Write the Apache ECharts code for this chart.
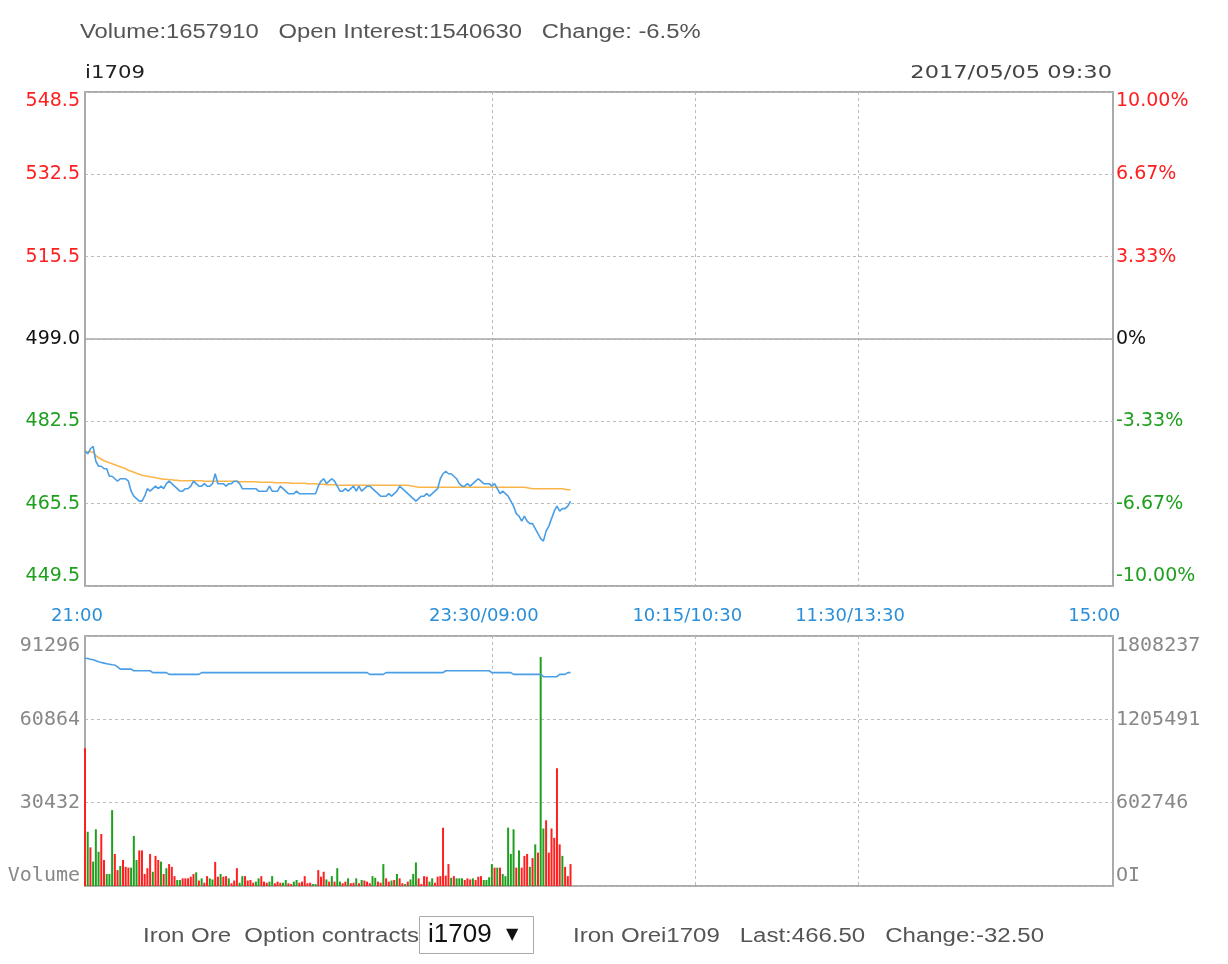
<!DOCTYPE html>
<html>
<head>
<meta charset="utf-8">
<title>i1709</title>
<script src="https://cdn.jsdelivr.net/npm/echarts@6/dist/echarts.min.js"></script>
<style>
  html, body { margin: 0; padding: 0; background: #fff; }
  #chart { width: 1228px; height: 964px; }
</style>
</head>
<body>
<div id="chart"></div>
<script>
// trading sessions (minute categories)
const sessions = [['21:00', '23:29'], ['09:00', '10:14'], ['10:30', '11:29'], ['13:30', '15:00']]
const xTickLabels = [['21:00', '21:00'], ['09:00', '23:30/09:00'], ['10:30', '10:15/10:30'], ['13:30', '11:30/13:30'], ['15:00', '15:00']]
const sessionBreaks = ['09:00', '10:30', '13:30']
const trailingSlots = 4 // empty room right of 15:00

const basePrice = 499
const priceTicks = ['449.5', '465.5', '482.5', '499.0', '515.5', '532.5', '548.5']
const pctTicks = ['-10.00%', '-6.67%', '-3.33%', '0%', '3.33%', '6.67%', '10.00%']
const volTicks = ['Volume', '30432', '60864', '91296']
const oiTicks = ['OI', '602746', '1205491', '1808237']

// last price per minute
const price = [
  476.5, 476.0, 477.0, 477.5, 474.5, 473.5, 473.5, 473.0, 473.0, 471.5,
  471.5, 471.0, 470.5, 471.0, 471.0, 471.0, 470.5, 468.5, 467.5, 467.0,
  466.5, 466.5, 467.5, 469.0, 468.5, 469.0, 469.5, 469.0, 469.5, 469.0,
  470.0, 470.5, 470.0, 469.5, 469.0, 468.5, 468.5, 469.0, 469.0, 469.5,
  470.5, 470.0, 469.5, 469.5, 470.0, 469.5, 469.5, 470.0, 472.0, 470.0,
  470.0, 470.0, 469.5, 470.0, 470.0, 470.5, 470.5, 470.0, 469.0, 469.0,
  469.0, 469.0, 469.0, 469.0, 468.5, 468.5, 468.5, 468.5, 469.5, 468.5,
  468.5, 468.5, 469.5, 469.0, 468.5, 468.0, 468.0, 468.0, 468.5, 468.0,
  468.0, 468.0, 468.0, 468.0, 468.0, 468.0, 469.5, 470.5, 471.0, 470.0,
  470.5, 471.0, 470.5, 469.5, 468.5, 468.5, 469.0, 468.5, 469.0, 469.5,
  468.5, 469.5, 468.5, 469.0, 469.5, 469.5, 469.0, 468.5, 468.0, 467.5,
  467.5, 467.5, 468.0, 467.5, 468.0, 468.5, 469.5, 469.0, 468.5, 468.0,
  467.5, 467.0, 466.5, 467.0, 467.5, 467.5, 468.0, 467.5, 468.0, 468.5,
  469.0, 471.0, 472.0, 472.5, 472.0, 472.0, 471.5, 471.0, 470.0, 469.5,
  469.5, 470.0, 469.5, 470.0, 470.5, 471.0, 470.5, 470.0, 470.0, 470.0,
  469.5, 470.0, 469.0, 468.0, 468.5, 468.0, 467.5, 466.5, 465.5, 464.0,
  463.5, 462.5, 463.5, 462.5, 462.0, 462.0, 461.0, 460.0, 459.0, 458.5,
  460.5, 461.5, 463.0, 464.5, 465.5, 464.5, 465.0, 465.0, 465.5, 466.5
]

// average price per minute
const avgPrice = [
  476.5, 476.4, 476.4, 476.3, 475.6, 475.2, 474.9, 474.6, 474.4, 474.2,
  474.0, 473.8, 473.6, 473.4, 473.2, 473.0, 472.7, 472.5, 472.3, 472.1,
  471.9, 471.7, 471.6, 471.5, 471.4, 471.3, 471.2, 471.1, 471.0, 470.9,
  470.9, 470.8, 470.8, 470.7, 470.7, 470.6, 470.6, 470.6, 470.6, 470.6,
  470.6, 470.6, 470.6, 470.6, 470.5, 470.5, 470.5, 470.5, 470.5, 470.5,
  470.5, 470.5, 470.5, 470.5, 470.5, 470.5, 470.5, 470.4, 470.4, 470.4,
  470.4, 470.4, 470.4, 470.4, 470.3, 470.3, 470.3, 470.3, 470.3, 470.3,
  470.2, 470.2, 470.2, 470.2, 470.2, 470.2, 470.1, 470.1, 470.1, 470.1,
  470.1, 470.1, 470.0, 470.0, 470.0, 470.0, 469.9, 469.9, 469.9, 469.8,
  469.8, 469.8, 469.8, 469.7, 469.7, 469.7, 469.7, 469.7, 469.7, 469.7,
  469.7, 469.7, 469.7, 469.7, 469.7, 469.7, 469.7, 469.7, 469.7, 469.7,
  469.7, 469.7, 469.7, 469.7, 469.7, 469.7, 469.7, 469.7, 469.7, 469.7,
  469.6, 469.5, 469.4, 469.3, 469.3, 469.3, 469.3, 469.3, 469.3, 469.3,
  469.3, 469.3, 469.3, 469.3, 469.3, 469.3, 469.3, 469.3, 469.3, 469.3,
  469.3, 469.3, 469.3, 469.3, 469.3, 469.3, 469.3, 469.3, 469.3, 469.3,
  469.3, 469.3, 469.3, 469.3, 469.3, 469.3, 469.3, 469.3, 469.3, 469.3,
  469.3, 469.3, 469.3, 469.2, 469.1, 469.0, 469.0, 469.0, 469.0, 469.0,
  469.0, 469.0, 469.0, 469.0, 469.0, 469.0, 469.0, 468.9, 468.8, 468.8
]

// volume per minute
const volume = [
  50300, 19800, 14100, 8900, 20700, 12500, 19000, 9500, 4400, 4400,
  27700, 11700, 5800, 7300, 9500, 7000, 6700, 6700, 18300, 9500,
  13000, 13000, 4400, 6500, 11700, 5200, 11000, 9500, 8900, 4400,
  6500, 8000, 7000, 3600, 2200, 2200, 2800, 2800, 2800, 3400,
  4400, 5000, 2000, 2800, 1200, 3600, 2800, 2400, 8800, 3400,
  4400, 3400, 3600, 2800, 1000, 2000, 6500, 1200, 3600, 3600,
  2000, 2200, 1200, 1600, 2800, 3600, 1600, 1200, 1600, 3600,
  1000, 1600, 1200, 1200, 2200, 1000, 700, 1600, 2200, 1200,
  1600, 3600, 1000, 1200, 700, 700, 5800, 3400, 5200, 2400,
  1600, 3600, 1600, 6500, 1600, 1000, 1600, 2800, 1000, 1200,
  2800, 1000, 2200, 2000, 1600, 1000, 3600, 3000, 1600, 1200,
  8000, 2800, 1600, 2000, 2200, 4400, 2800, 1000, 700, 1600,
  2400, 4400, 8600, 2800, 700, 3600, 3400, 1600, 2800, 1200,
  3400, 3600, 21300, 3800, 8000, 3000, 3600, 2800, 2800, 2800,
  2200, 2800, 2400, 2800, 2200, 3400, 3600, 2200, 2200, 3200,
  8000, 6700, 6700, 6700, 4400, 3600, 21300, 11700, 20700, 6700,
  13000, 6700, 11000, 11700, 7000, 10200, 15200, 12200, 83600, 21000,
  24000, 12200, 21000, 17600, 43000, 15200, 11000, 7000, 3600, 8000
]

// bar side per minute: R = up, G = down
const volSide = (
  'RGRGGGRRGG' + 'GRRGRRRGGG' + 'RRRRRGRRGR' + 'GRRRGGRRRR' + 'RGRGRRGGRR' +
  'GRRGRRRGGR' + 'RRRGGRRRGG' + 'RRRGGRRGGR' + 'RRRRGGRRRG' + 'RGRGGRRGRR' +
  'GRGRRRGGRR' + 'GRRGRGRRGR' + 'GGGRRRRGGR' + 'RRRRRGRGGG' + 'RRRGRRRGGG' +
  'GRGRGGGGGR' + 'GRRRGRGRGG' + 'RRRRRRGRRR'
).split('')

// open interest per minute
const openInterest = [
  1647000, 1645000, 1640000, 1636000, 1630000, 1622000, 1616000, 1612000, 1608000, 1604000,
  1600000, 1598000, 1585000, 1569000, 1569000, 1569000, 1569000, 1569000, 1557000, 1557000,
  1557000, 1557000, 1557000, 1557000, 1557000, 1543000, 1543000, 1543000, 1543000, 1543000,
  1543000, 1531000, 1531000, 1531000, 1531000, 1531000, 1531000, 1531000, 1531000, 1531000,
  1531000, 1531000, 1531000, 1543000, 1543000, 1543000, 1543000, 1543000, 1543000, 1543000,
  1543000, 1543000, 1543000, 1543000, 1543000, 1543000, 1543000, 1543000, 1543000, 1543000,
  1543000, 1543000, 1543000, 1543000, 1543000, 1543000, 1543000, 1543000, 1543000, 1543000,
  1543000, 1543000, 1543000, 1543000, 1543000, 1543000, 1543000, 1543000, 1543000, 1543000,
  1543000, 1543000, 1543000, 1543000, 1543000, 1543000, 1543000, 1543000, 1543000, 1543000,
  1543000, 1543000, 1543000, 1543000, 1543000, 1543000, 1543000, 1543000, 1543000, 1543000,
  1543000, 1543000, 1543000, 1543000, 1543000, 1531000, 1531000, 1531000, 1531000, 1531000,
  1531000, 1543000, 1543000, 1543000, 1543000, 1543000, 1543000, 1543000, 1543000, 1543000,
  1543000, 1543000, 1543000, 1543000, 1543000, 1543000, 1543000, 1543000, 1543000, 1543000,
  1543000, 1543000, 1543000, 1557000, 1557000, 1557000, 1557000, 1557000, 1557000, 1557000,
  1557000, 1557000, 1557000, 1557000, 1557000, 1557000, 1557000, 1557000, 1557000, 1557000,
  1543000, 1543000, 1543000, 1543000, 1543000, 1543000, 1543000, 1543000, 1531000, 1531000,
  1531000, 1531000, 1531000, 1531000, 1531000, 1531000, 1531000, 1531000, 1531000, 1514000,
  1514000, 1514000, 1514000, 1514000, 1514000, 1531000, 1531000, 1531000, 1543000, 1543000
]

const pad = n => (n < 10 ? '0' : '') + n
const times = []
sessions.forEach(([s, e]) => {
  let [h, m] = s.split(':').map(Number)
  const [eh, em] = e.split(':').map(Number)
  while (h * 60 + m <= eh * 60 + em) {
    times.push(pad(h) + ':' + pad(m))
    m++
    if (m === 60) { m = 0; h++ }
  }
})
for (let i = 1; i <= trailingSlots; i++) times.push('+' + i)

const labelMap = {}
xTickLabels.forEach(([t, l]) => { labelMap[t] = l })
const isTick = idx => labelMap[times[idx]] !== undefined
const isBreak = idx => sessionBreaks.indexOf(times[idx]) >= 0

const RED = '#ff1f1f'
const GREEN = '#1ea01e'
const LINE_BLUE = '#4a9ee6'
const GRID_GREY = '#aaaaaa'
const DASH = { color: '#bbbbbb', type: [3, 3], width: 1 }

const priceIndex = v => Math.round((Number(v) + 49.5) / 16.5)
const priceColor = v => {
  const i = priceIndex(v)
  return i > 3 ? RED : (i < 3 ? GREEN : '#111')
}

const chart = echarts.init(document.getElementById('chart'))

const xBase = {
  type: 'category',
  data: times,
  boundaryGap: false,
  axisLine: { show: false },
  axisTick: { show: false },
  splitLine: { show: true, interval: isBreak, lineStyle: DASH }
}

const option = {
  animation: false,
  backgroundColor: '#fff',
  grid: [
    { left: 85, right: 115, top: 92, height: 494, show: true, borderColor: GRID_GREY, borderWidth: 2, backgroundColor: 'transparent', outerBoundsMode: 'none' },
    { left: 85, right: 115, top: 636, height: 250, show: true, borderColor: GRID_GREY, borderWidth: 2, backgroundColor: 'transparent', outerBoundsMode: 'none' }
  ],
  xAxis: [
    Object.assign({}, xBase, {
      gridIndex: 0,
      axisLabel: {
        show: true,
        interval: isTick,
        formatter: v => labelMap[v],
        color: '#2a8fd8',
        fontFamily: 'DejaVu Sans',
        fontSize: 18,
        margin: 21,
        padding: [0, 16, 0, 0]
      }
    }),
    Object.assign({}, xBase, { gridIndex: 1, axisLabel: { show: false } })
  ],
  yAxis: [
    {
      gridIndex: 0, position: 'left', type: 'value',
      min: -49.5, max: 49.5, interval: 16.5,
      axisLine: { show: false }, axisTick: { show: false },
      splitLine: { show: true, lineStyle: DASH },
      axisLabel: {
        formatter: v => priceTicks[priceIndex(v)],
        color: priceColor,
        fontFamily: 'DejaVu Sans', fontSize: 19, margin: 5,
        verticalAlignMaxLabel: 'top', verticalAlignMinLabel: 'bottom'
      }
    },
    {
      gridIndex: 0, position: 'right', type: 'value',
      min: -49.5, max: 49.5, interval: 16.5,
      axisLine: { show: false }, axisTick: { show: false },
      splitLine: { show: false },
      axisLabel: {
        formatter: v => pctTicks[priceIndex(v)],
        color: priceColor,
        fontFamily: 'DejaVu Sans', fontSize: 19, margin: 3,
        verticalAlignMaxLabel: 'top', verticalAlignMinLabel: 'bottom'
      }
    },
    {
      gridIndex: 1, position: 'left', type: 'value',
      min: 0, max: 91296, interval: 30432,
      axisLine: { show: false }, axisTick: { show: false },
      splitLine: { show: true, lineStyle: DASH },
      axisLabel: {
        formatter: v => volTicks[Math.round(Number(v) / 30432)],
        color: '#888', fontFamily: 'DejaVu Sans Mono', fontSize: 20, margin: 5,
        verticalAlignMaxLabel: 'top', verticalAlignMinLabel: 'bottom'
      }
    },
    {
      gridIndex: 1, position: 'right', type: 'value',
      min: 0, max: 1808237, interval: 1808237 / 3,
      axisLine: { show: false }, axisTick: { show: false },
      splitLine: { show: false },
      axisLabel: {
        formatter: v => oiTicks[Math.round(Number(v) / (1808237 / 3))],
        color: '#888', fontFamily: 'DejaVu Sans Mono', fontSize: 20, margin: 3,
        verticalAlignMaxLabel: 'top', verticalAlignMinLabel: 'bottom'
      }
    }
  ],
  series: [
    {
      name: 'price', type: 'line', xAxisIndex: 0, yAxisIndex: 0,
      data: price.map(p => +(p - basePrice).toFixed(2)),
      showSymbol: false, symbol: 'none',
      lineStyle: { color: LINE_BLUE, width: 1.6 },
      markLine: {
        silent: true, symbol: 'none', label: { show: false },
        lineStyle: { type: 'solid', color: GRID_GREY, width: 1.5 },
        data: [{ yAxis: 0 }]
      },
      z: 3
    },
    {
      name: 'average', type: 'line', xAxisIndex: 0, yAxisIndex: 0,
      data: avgPrice.map(p => +(p - basePrice).toFixed(2)),
      showSymbol: false, symbol: 'none',
      lineStyle: { color: '#fbb64a', width: 1.6 },
      z: 2
    },
    {
      name: 'volume', type: 'bar', xAxisIndex: 1, yAxisIndex: 2,
      barWidth: 2,
      data: volume.map((v, i) => ({ value: v, itemStyle: { color: volSide[i] === 'R' ? RED : GREEN } }))
    },
    {
      name: 'oi', type: 'line', xAxisIndex: 1, yAxisIndex: 3,
      data: openInterest,
      showSymbol: false, symbol: 'none',
      lineStyle: { color: LINE_BLUE, width: 1.6 }
    }
  ],
  graphic: [
    { type: 'text', x: 80, y: 32, scaleX: 1.19, style: { text: 'Volume:1657910   Open Interest:1540630   Change: -6.5%', font: '20px "Liberation Sans"', fill: '#555', verticalAlign: 'middle' } },
    { type: 'text', x: 85, y: 73, scaleX: 1.18, style: { text: 'i1709', font: '18px "DejaVu Sans"', fill: '#222', verticalAlign: 'middle' } },
    { type: 'text', x: 1112, y: 73, scaleX: 1.25, style: { text: '2017/05/05 09:30', font: '18px "DejaVu Sans"', fill: '#444', align: 'right', verticalAlign: 'middle' } },
    { type: 'text', x: 143, y: 936, scaleX: 1.2, style: { text: 'Iron Ore  Option contracts', font: '20px "Liberation Sans"', fill: '#555', verticalAlign: 'middle' } },
    { type: 'rect', shape: { x: 419.5, y: 916.5, width: 114, height: 37 }, style: { fill: '#fff', stroke: '#aaa', lineWidth: 1 } },
    { type: 'text', x: 428, y: 935, style: { text: 'i1709', font: '26px "Liberation Sans"', fill: '#111', verticalAlign: 'middle' } },
    { type: 'text', x: 506, y: 935, style: { text: '▼', font: '16px "DejaVu Sans"', fill: '#111', verticalAlign: 'middle' } },
    { type: 'text', x: 573, y: 936, scaleX: 1.2, style: { text: 'Iron Orei1709   Last:466.50   Change:-32.50', font: '20px "Liberation Sans"', fill: '#555', verticalAlign: 'middle' } }
  ]
}

chart.setOption(option)
</script>
</body>
</html>
